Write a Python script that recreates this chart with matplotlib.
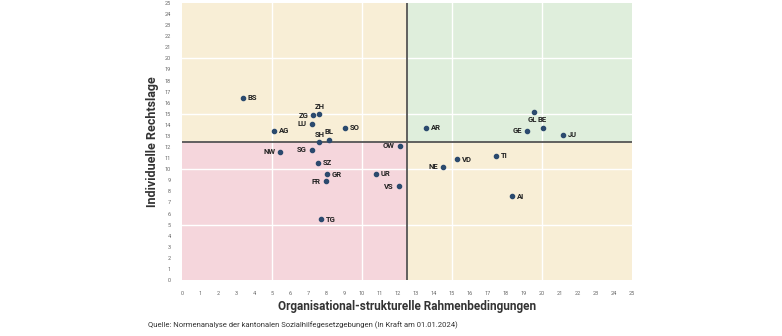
import matplotlib
matplotlib.use('Agg')
import matplotlib.pyplot as plt
from matplotlib.patches import Rectangle

# Données
cantons = ['BS', 'ZH', 'ZG', 'LU', 'AG', 'SO', 'SH', 'BL', 'OW', 'SG', 'NW', 'SZ', 'GR',
           'FR', 'UR', 'VS', 'TG', 'AR', 'GL', 'BE', 'GE', 'JU', 'VD', 'NE', 'TI', 'AI']
rahmen = [3.37, 7.63, 7.3, 7.2, 5.12, 9.07, 7.63, 8.16, 12.09, 7.22, 5.45, 7.53, 8.05,
          7.98, 10.76, 12.05, 7.72, 13.58, 19.57, 20.03, 19.17, 21.14, 15.26, 14.5, 17.42, 18.32]
rechtslage = [16.44, 14.97, 14.87, 14.12, 13.46, 13.73, 12.44, 12.68, 12.13, 11.77, 11.56, 10.57, 9.54,
              8.91, 9.6, 8.46, 5.48, 13.73, 15.2, 13.76, 13.46, 13.1, 10.9, 10.2, 11.2, 7.56]

# Position des étiquettes (décalage en points, alignement)
positions = {
    'ZH': (0, 5.5, 'center'), 'ZG': (-3.5, 0, 'right'), 'LU': (-3.5, 0, 'right'),
    'SH': (0, 5.5, 'center'), 'BL': (0, 5.5, 'center'), 'OW': (-3.5, 0, 'right'),
    'SG': (-3.5, 0, 'right'), 'NW': (-3.5, 0, 'right'), 'FR': (-3.5, 0, 'right'),
    'VS': (-3.5, 0, 'right'), 'NE': (-3.5, 0, 'right'), 'GE': (-3.5, 0, 'right'),
    'GL': (-1.5, -5.5, 'center'), 'BE': (0, 6, 'center'),
}

SEUIL = 12.5
plt.rcParams['font.family'] = ['Roboto', 'DejaVu Sans']

fig = plt.figure(figsize=(7.82, 3.36), dpi=100)
ax = fig.add_axes([182 / 782, 56 / 336, 450 / 782, 277 / 336])

# Quadrants
ax.add_patch(Rectangle((0, SEUIL), SEUIL, 25 - SEUIL, color='#f8eed6', zorder=0))
ax.add_patch(Rectangle((SEUIL, SEUIL), 25 - SEUIL, 25 - SEUIL, color='#dfeedc', zorder=0))
ax.add_patch(Rectangle((0, 0), SEUIL, SEUIL, color='#f5d6dc', zorder=0))
ax.add_patch(Rectangle((SEUIL, 0), 25 - SEUIL, SEUIL, color='#f8eed6', zorder=0))

# Grille blanche
for v in [5, 10, 15, 20]:
    ax.axvline(v, color='white', lw=1, zorder=1)
    ax.axhline(v, color='white', lw=1, zorder=1)

ax.axvline(SEUIL, color='#555555', lw=1.3, zorder=2)
ax.axhline(SEUIL, color='#555555', lw=1.3, zorder=2)

ax.scatter(rahmen, rechtslage, s=9, color='#2b4a6e', zorder=3)

for nom, x, y in zip(cantons, rahmen, rechtslage):
    dx, dy, ha = positions.get(nom, (3.5, 0, 'left'))
    ax.annotate(nom, (x, y), xytext=(dx, dy), textcoords='offset points',
                ha=ha, va='center', fontsize=5.5, fontweight='bold', color='#222222', zorder=4)

ax.set_xlim(0, 25)
ax.set_ylim(0, 25)
ax.set_xticks(range(0, 26))
ax.set_yticks(range(0, 26))
ax.tick_params(length=0, labelsize=4, labelcolor='#666666', pad=8)
for s in ax.spines.values():
    s.set_visible(False)

ax.set_xlabel('Organisational-strukturelle Rahmenbedingungen', fontsize=8.5,
              fontweight='bold', color='#333333', labelpad=3)
ax.set_ylabel('Individuelle Rechtslage', fontsize=9, fontweight='bold',
              color='#333333', labelpad=4)

fig.text(148 / 782, 1 - 325 / 336, 'Quelle: Normenanalyse der kantonalen Sozialhilfegesetzgebungen (In Kraft am 01.01.2024)',
         fontsize=5.5, color='#333333', va='center')

fig.savefig('out.png', dpi=100)
